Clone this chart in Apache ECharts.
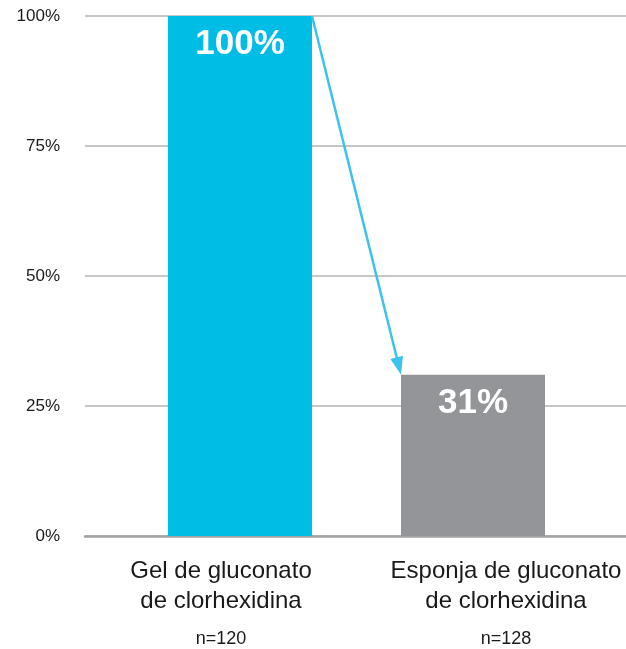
<!DOCTYPE html>
<html>
<head>
<meta charset="utf-8">
<style>
  html, body { margin: 0; padding: 0; background: #ffffff; }
  #chart { width: 626px; height: 649px; }
</style>
<script src="https://cdn.jsdelivr.net/npm/echarts@6/dist/echarts.min.js"></script>
</head>
<body>
<div id="chart"></div>
<script>
// Categories, sample sizes and values
const categories = ['Gel de gluconato\nde clorhexidina', 'Esponja de gluconato\nde clorhexidina'];
const sampleSizes = ['n=120', 'n=128'];
const values = [100, 31];
const barColors = ['#00bde6', '#939598'];
const yTicks = [0, 25, 50, 75, 100];

const FONT = '"Liberation Sans", Arial, sans-serif';
const BAR_WIDTH = 144;
const ARROW_COLOR = '#3cc3ea';

const chart = echarts.init(document.getElementById('chart'), null, { renderer: 'canvas' });

const option = {
  backgroundColor: '#ffffff',
  animation: false,
  grid: [
    // frame grid: y labels, gridlines and baseline across the full width
    { left: 85, right: 0, top: 16, bottom: 113, outerBoundsMode: 'none' },
    // bar grid
    { left: 123.5, right: 36.5, top: 16, bottom: 113, outerBoundsMode: 'none' },
    // category label grid
    { left: 78.5, width: 570, top: 16, bottom: 113, outerBoundsMode: 'none' }
  ],
  xAxis: [
    {
      gridIndex: 0, type: 'value', min: 0, max: 1,
      axisLine: { show: true, lineStyle: { color: '#a3a3a3', width: 2.5 } },
      axisTick: { show: false }, axisLabel: { show: false }, splitLine: { show: false }
    },
    {
      gridIndex: 1, type: 'category', data: categories,
      axisLine: { show: false }, axisTick: { show: false }, splitLine: { show: false },
      axisLabel: { show: false }
    },
    {
      gridIndex: 2, type: 'category', data: categories,
      axisLine: { show: false }, axisTick: { show: false }, splitLine: { show: false },
      axisLabel: {
        interval: 0,
        margin: 20,
        formatter: function (val, idx) {
          const lines = val.split('\n').map(s => '{a|' + s + '}');
          lines.push('{b|' + sampleSizes[idx] + '}');
          return lines.join('\n');
        },
        rich: {
          a: { fontFamily: FONT, fontSize: 24, lineHeight: 30, color: '#1a1a1a', align: 'center' },
          b: { fontFamily: FONT, fontSize: 18, lineHeight: 46, color: '#1a1a1a', align: 'center' }
        }
      }
    }
  ],
  yAxis: [
    {
      gridIndex: 0, type: 'value', min: 0, max: 100, interval: 25,
      axisLine: { show: false }, axisTick: { show: false },
      axisLabel: {
        margin: 25, fontFamily: FONT, fontSize: 17, color: '#1a1a1a',
        formatter: function (v) { return yTicks.indexOf(v) >= 0 ? v + '%' : ''; }
      },
      splitLine: { show: true, lineStyle: { color: '#b3b3b3', width: 1.6 } }
    },
    {
      gridIndex: 1, type: 'value', min: 0, max: 100, interval: 25, show: false,
      splitLine: { show: false }
    },
    {
      gridIndex: 2, type: 'value', min: 0, max: 100, interval: 25, show: false,
      splitLine: { show: false }
    }
  ],
  series: [
    {
      type: 'bar',
      xAxisIndex: 1, yAxisIndex: 1,
      barWidth: BAR_WIDTH,
      data: values.map((v, i) => ({ value: v, itemStyle: { color: barColors[i] } })),
      label: {
        show: true,
        position: 'insideTop',
        distance: 11,
        formatter: '{c}%',
        fontFamily: FONT,
        fontWeight: 'bold',
        fontSize: 35,
        lineHeight: 35,
        color: '#ffffff'
      },
      z: 3
    }
  ]
};

chart.setOption(option);

// Arrow from the top-right corner of the first bar to the top-left corner of the second
function drawArrow() {
  const finder = { xAxisIndex: 1, yAxisIndex: 1 };
  const p1 = chart.convertToPixel(finder, [0, values[0]]);
  const p2 = chart.convertToPixel(finder, [1, values[1]]);
  const sx = p1[0] + BAR_WIDTH / 2, sy = p1[1];
  const tx = p2[0] - BAR_WIDTH / 2, ty = p2[1];
  const dx = tx - sx, dy = ty - sy;
  const len = Math.sqrt(dx * dx + dy * dy);
  const ux = dx / len, uy = dy / len;
  const headLen = 18, headHalf = 6.5;
  const bx = tx - ux * headLen, by = ty - uy * headLen;
  const nx = -uy, ny = ux;
  chart.setOption({
    graphic: [
      {
        type: 'line', z: 10,
        shape: { x1: sx, y1: sy, x2: bx + ux * 2, y2: by + uy * 2 },
        style: { stroke: ARROW_COLOR, lineWidth: 2.5 }
      },
      {
        type: 'polygon', z: 10,
        shape: { points: [[tx, ty], [bx + nx * headHalf, by + ny * headHalf], [bx - nx * headHalf, by - ny * headHalf]] },
        style: { fill: ARROW_COLOR }
      }
    ]
  });
}
drawArrow();
</script>
</body>
</html>
